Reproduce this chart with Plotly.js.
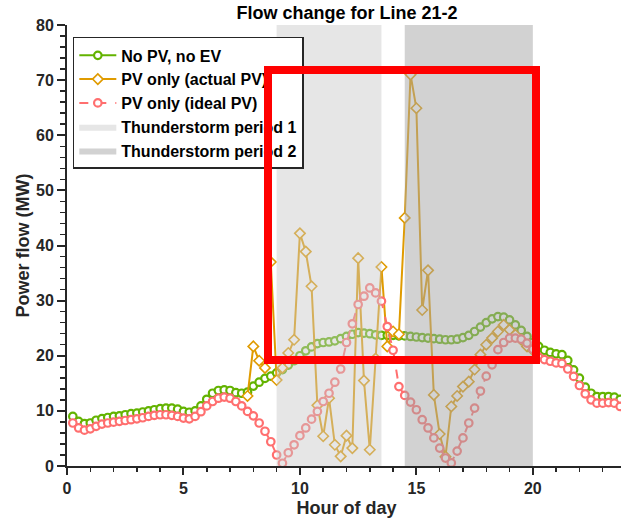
<!DOCTYPE html>
<html>
<head>
<meta charset="utf-8">
<script src="https://cdn.plot.ly/plotly-3.0.1.min.js"></script>
<style>
html,body{margin:0;padding:0;overflow:hidden;background:#fff;}
#chart{width:640px;height:520px;}
</style>
</head>
<body>
<div id="chart"></div>
<script>
// ---- data ----
const hours = [0.25,0.5,0.75,1,1.25,1.5,1.75,2,2.25,2.5,2.75,3,3.25,3.5,3.75,4,
  4.25,4.5,4.75,5,5.25,5.5,5.75,6,6.25,6.5,6.75,7,7.25,7.5,7.75,8,
  8.25,8.5,8.75,9,9.25,9.5,9.75,10,10.25,10.5,10.75,11,11.25,11.5,11.75,12,
  12.25,12.5,12.75,13,13.25,13.5,13.75,14,14.25,14.5,14.75,15,15.25,15.5,15.75,16,
  16.25,16.5,16.75,17,17.25,17.5,17.75,18,18.25,18.5,18.75,19,19.25,19.5,19.75,20,
  20.25,20.5,20.75,21,21.25,21.5,21.75,22,22.25,22.5,22.75,23,23.25,23.5,23.75,24];

const noPvNoEv = [9.0,8.1,7.7,7.8,8.3,8.6,8.8,9.0,9.1,9.3,9.5,9.6,9.8,10.0,10.2,10.4,
  10.5,10.5,10.3,9.9,9.75,10.0,10.9,12.1,13.2,13.7,13.8,13.7,13.3,13.2,13.4,14.5,
  15.2,15.9,16.3,16.9,17.5,18.3,19.1,20.0,20.9,21.6,22.2,22.4,22.5,22.7,23.1,23.5,
  23.9,24.2,24.1,24.0,23.8,23.7,23.7,23.7,23.6,23.6,23.5,23.4,23.3,23.2,23.1,23.0,
  22.9,22.9,23.0,23.3,23.7,24.4,25.2,26.0,26.7,27.1,27.0,26.5,25.6,24.6,23.5,22.4,
  21.7,21.0,20.6,20.35,20.2,19.15,17.45,15.95,14.3,13.2,12.6,12.6,12.6,12.5,12.1,11.8];

const pvIdeal = [7.8,6.9,6.5,6.75,7.2,7.6,7.8,7.95,8.1,8.25,8.4,8.55,8.75,9.0,9.2,9.3,
  9.3,9.2,9.0,8.7,8.55,9.0,9.85,10.9,11.7,12.3,12.5,12.3,11.7,10.9,9.9,9.1,
  7.8,6.3,4.4,2.0,0.5,2.4,3.85,5.5,6.9,8.5,9.9,11.7,13.2,15.2,17.6,22.4,
  25.8,29.3,30.8,32.3,31.4,29.9,25.3,21.0,14.4,12.8,11.6,10.2,8.4,6.9,5.1,3.25,
  1.45,0.55,2.7,5.1,7.8,10.5,13.6,16.3,18.35,21.1,22.4,23.2,23.2,23.0,22.3,21.2,
  19.75,19.3,19.0,18.7,18.6,17.6,16.25,14.6,13.1,12.0,11.4,11.4,11.5,11.4,10.8,10.4];

const actualHours = [7.75,8,8.25,8.5,8.75,9,9.25,9.5,9.75,10,10.25,10.5,10.75,11,11.25,11.5,
  11.75,12,12.25,12.5,12.75,13,13.25,13.5,13.75,14,14.25,14.5,14.75,15,15.25,15.5,
  15.75,16,16.25,16.5,16.75,17,17.25,17.5,17.75,18,18.25,18.5,18.75,19,19.25,19.5,19.75,20];
const pvActual = [12.7,21.7,19.1,17.8,37.0,15.6,17.8,20.5,22.9,42.2,38.9,32.6,11.0,5.4,12.3,3.85,
  1.75,5.5,3.25,37.7,15.5,2.95,19.5,36.1,21.7,24.4,23.9,45.0,71.0,64.9,28.3,35.5,
  12.9,5.8,1.7,10.8,12.7,14.4,15.3,17.5,20.2,22.0,23.2,24.4,25.6,24.7,23.8,22.9,21.7,21.0];

const seriesNames = ['No PV, no EV', 'PV only (actual PV)', 'PV only (ideal PV)'];
const stormNames = ['Thunderstorm period 1', 'Thunderstorm period 2'];
const stormStart = [9, 14.5];
const stormEnd = [13.5, 20];
const yTicksMax = 80;

// ---- styles ----
const GREEN = '#63b300', ORANGE = '#e09b00', PINK = '#ff6f6f', AX = '#262626';
const FONT = 'Liberation Sans, Arial, sans-serif';
const stormFill = ['rgba(200,200,200,0.45)', 'rgba(165,165,165,0.5)'];

const traces = [
  {x: hours, y: noPvNoEv, name: seriesNames[0], type: 'scatter', mode: 'lines+markers',
   line: {color: GREEN, width: 2},
   marker: {symbol: 'circle', size: 7.5, color: '#ffffff', line: {color: GREEN, width: 2.2}},
   cliponaxis: false},
  {x: actualHours, y: pvActual, name: seriesNames[1], type: 'scatter', mode: 'lines+markers',
   line: {color: ORANGE, width: 2},
   marker: {symbol: 'diamond', size: 8, color: '#ffffff', line: {color: ORANGE, width: 1.6}},
   cliponaxis: false},
  {x: hours, y: pvIdeal, name: seriesNames[2], type: 'scatter', mode: 'lines+markers',
   line: {color: PINK, width: 2, dash: 'dash'},
   marker: {symbol: 'circle', size: 7.5, color: '#ffffff', line: {color: PINK, width: 2.2}},
   cliponaxis: false}
];
stormNames.forEach((nm, i) => {
  traces.push({
    x: [stormStart[i], stormEnd[i], stormEnd[i], stormStart[i], stormStart[i]],
    y: [0, 0, yTicksMax, yTicksMax, 0],
    name: nm, type: 'scatter', mode: 'lines', fill: 'toself',
    fillcolor: stormFill[i], line: {width: 0, color: stormFill[i]}, hoverinfo: 'skip'
  });
});

const tickFont = {family: FONT, size: 16, color: AX, weight: 'bold'};
const layout = {
  width: 640, height: 520,
  margin: {l: 67, r: 14, t: 25, b: 54},
  paper_bgcolor: '#ffffff', plot_bgcolor: '#ffffff',
  showlegend: true, hovermode: false,
  title: {text: 'Flow change for Line 21-2', font: {family: FONT, size: 18, color: '#000', weight: 'bold'},
          x: 347/640, xref: 'container', xanchor: 'center', y: 1 - 13/520, yref: 'container', yanchor: 'middle'},
  xaxis: {range: [0, 24], showgrid: false, zeroline: false, showline: true, linecolor: AX, linewidth: 2,
          ticks: 'outside', ticklen: 7, tickwidth: 2, tickcolor: AX, tickmode: 'linear', tick0: 0, dtick: 5,
          minor: {ticks: 'outside', dtick: 1, ticklen: 4, tickwidth: 1.5, tickcolor: AX, showgrid: false},
          tickfont: tickFont,
          title: {text: 'Hour of day', font: {family: FONT, size: 18, color: AX, weight: 'bold'}, standoff: 5}},
  yaxis: {range: [0, 80], showgrid: false, zeroline: false, showline: true, linecolor: AX, linewidth: 2,
          ticks: 'outside', ticklen: 8, tickwidth: 2, tickcolor: AX, tickmode: 'linear', tick0: 0, dtick: 10,
          minor: {ticks: 'outside', dtick: 2, ticklen: 5, tickwidth: 1.5, tickcolor: AX, showgrid: false},
          tickfont: tickFont,
          title: {text: 'Power flow (MW)', font: {family: FONT, size: 18, color: AX, weight: 'bold'}, standoff: 2}},
  legend: {x: 0.0104, y: 0.973, xanchor: 'left', yanchor: 'top', bgcolor: '#ffffff',
           bordercolor: AX, borderwidth: 1.5, font: {family: FONT, size: 16, color: '#000', weight: 'bold'},
           traceorder: 'normal', itemwidth: 37},
  annotations: [{
    xref: 'x', yref: 'y', x: (8.62 + 20.14) / 2, y: (71.9 + 19.3) / 2,
    xanchor: 'center', yanchor: 'middle', showarrow: false, text: ' ',
    width: 260, height: 282, borderpad: 0, borderwidth: 8, bordercolor: '#ff0000', bgcolor: 'rgba(0,0,0,0)'
  }]
};

Plotly.newPlot('chart', traces, layout, {displayModeBar: false, staticPlot: true});
</script>
</body>
</html>
